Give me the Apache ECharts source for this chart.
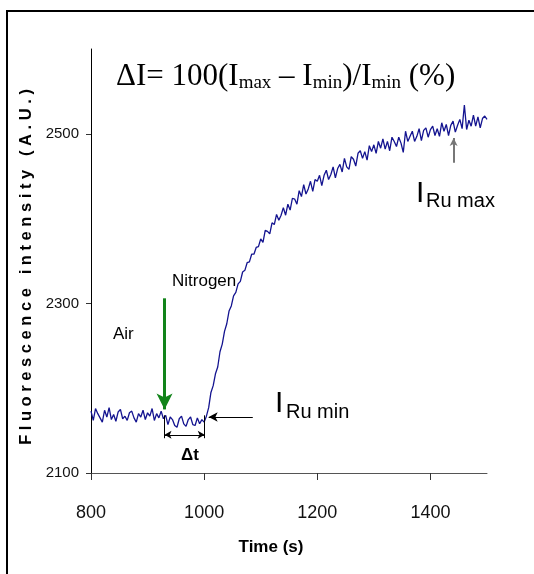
<!DOCTYPE html>
<html lang="en">

<head>
    <meta charset="UTF-8">
    <title>Fluorescence intensity</title>
    <script src="https://cdn.jsdelivr.net/npm/echarts@6/dist/echarts.min.js"></script>
    <style>
        html, body { margin: 0; padding: 0; background: #fff; }
        #main { width: 534px; height: 574px; }
    </style>
</head>

<body>
    <div id="main"></div>
    <script>
        // one reading every 4 s from 800 s to 1500 s
        var startTime = 800;
        var step = 4;
        var intensity = [
            // 800 - 928 s, air
            2173, 2162, 2176, 2170, 2165, 2160, 2174, 2166, 2177, 2163, 2169,
            2161, 2172, 2175, 2164, 2167, 2162, 2171, 2173, 2165, 2160, 2170,
            2166, 2174, 2163, 2171, 2167, 2176, 2162, 2170, 2165, 2173, 2164,
            // 932 - 1000 s, nitrogen, before response
            2168, 2157, 2166, 2163, 2156, 2154, 2164, 2167, 2158,
            2155, 2163, 2166, 2157, 2156, 2165, 2158, 2163, 2160,
            // 1004 - 1096 s
            2167, 2177, 2195, 2203, 2217, 2225, 2243, 2252, 2267, 2276, 2291, 2297,
            2309, 2313, 2323, 2326, 2337, 2339, 2348, 2349, 2358, 2358, 2366, 2367,
            // 1100 - 1200 s
            2376, 2372, 2386, 2385, 2382, 2395, 2393, 2405, 2398, 2404, 2413, 2404, 2417,
            2410, 2424, 2423, 2417, 2433, 2426, 2440, 2429, 2435, 2444, 2432, 2446, 2444,
            // 1204 - 1300 s
            2451, 2439, 2451, 2457, 2446, 2452, 2461, 2448, 2459, 2464, 2455, 2471, 2461,
            2458, 2473, 2470, 2462, 2477, 2480, 2471, 2479, 2469, 2486, 2479, 2487,
            // 1304 - 1400 s
            2477, 2491, 2483, 2494, 2482, 2491, 2480, 2496, 2491, 2485, 2496, 2489, 2478,
            2503, 2491, 2497, 2503, 2491, 2497, 2506, 2492, 2504, 2507, 2496, 2505,
            // 1404 - 1500 s
            2509, 2498, 2506, 2497, 2513, 2503, 2511, 2498, 2510, 2515, 2502, 2510, 2517,
            2506, 2534, 2505, 2516, 2509, 2522, 2509, 2520, 2507, 2518, 2521, 2517
        ];
        var xTicks = [800, 1000, 1200, 1400];
        var yTicks = [2100, 2300, 2500];

        // annotation anchors (data coordinates)
        var gasSwitch = 930;    // nitrogen switched on
        var riseStart = 1001;   // intensity starts to rise
        var minLevel = 2166;
        var maxTime = 1441;

        var sans = '"Liberation Sans", Arial, sans-serif';
        var serif = '"Liberation Serif", "Times New Roman", serif';

        var points = intensity.map(function (v, i) { return [startTime + i * step, v]; });

        var myChart = echarts.init(document.getElementById('main'));
        var option = {
            animation: false,
            grid: { left: 91, top: 49, right: 47, bottom: 101, containLabel: false },
            xAxis: {
                type: 'value',
                min: 800, max: 1500, interval: 200,
                name: 'Time (s)',
                nameLocation: 'middle',
                nameGap: 66,
                nameTextStyle: { fontFamily: sans, fontWeight: 'bold', fontSize: 17, color: '#000', padding: [0, 36, 0, 0] },
                splitLine: { show: false },
                axisLine: { onZero: false, lineStyle: { color: '#555', width: 1 } },
                axisTick: { customValues: xTicks, length: 7, lineStyle: { color: '#333' } },
                axisLabel: {
                    customValues: xTicks, margin: 31, fontFamily: sans, fontSize: 18, color: '#111',
                    formatter: function (v) { return String(v); }
                }
            },
            yAxis: {
                type: 'value',
                min: 2100, max: 2600, interval: 200,
                name: 'F l u o r e s c e n c e   i n t e n s i t y   ( A . U . )',
                nameLocation: 'middle',
                nameGap: 45,
                nameTextStyle: { fontFamily: sans, fontWeight: 'bold', fontSize: 16.5, color: '#000', padding: [0, 12, 0, 0] },
                splitLine: { show: false },
                axisLine: { show: true, onZero: false, lineStyle: { color: '#000', width: 1 } },
                axisTick: { customValues: yTicks, length: 5, lineStyle: { color: '#333' } },
                axisLabel: {
                    customValues: yTicks, margin: 12, fontFamily: sans, fontSize: 15, color: '#111',
                    formatter: function (v) { return String(v); }
                }
            },
            series: [{
                type: 'line',
                data: points,
                showSymbol: false,
                lineStyle: { color: '#141490', width: 1.3 },
                markLine: {
                    silent: true,
                    animation: false,
                    label: { show: false },
                    emphasis: { disabled: true },
                    data: [
                        // green gas switch arrow
                        [{ coord: [gasSwitch, 2306], symbol: 'none' },
                         { coord: [gasSwitch, 2175], symbol: 'arrow', symbolSize: [12, 16],
                           lineStyle: { color: '#12841a', width: 3, type: 'solid' } }],
                        // arrow to I_Ru min
                        [{ coord: [1086, minLevel], symbol: 'none' },
                         { coord: [1008, minLevel], symbol: 'arrow', symbolSize: [7, 9],
                           lineStyle: { color: '#000', width: 1, type: 'solid' } }],
                        // delta t
                        [{ coord: [gasSwitch, 2145], symbol: 'arrow', symbolSize: [6, 7] },
                         { coord: [riseStart, 2145], symbol: 'arrow', symbolSize: [6, 7],
                           lineStyle: { color: '#000', width: 1.2, type: 'solid' } }],
                        [{ coord: [gasSwitch, 2168], symbol: 'none' },
                         { coord: [gasSwitch, 2141], symbol: 'none',
                           lineStyle: { color: '#000', width: 1, type: 'solid' } }],
                        [{ coord: [riseStart, 2168], symbol: 'none' },
                         { coord: [riseStart, 2141], symbol: 'none',
                           lineStyle: { color: '#000', width: 1, type: 'solid' } }],
                        // arrow to I_Ru max
                        [{ coord: [maxTime, 2466], symbol: 'none' },
                         { coord: [maxTime, 2495], symbol: 'arrow', symbolSize: [6, 8],
                           lineStyle: { color: '#777', width: 2, type: 'solid' } }]
                    ]
                }
            }],
            graphic: [
                {
                    type: 'rect', silent: true,
                    shape: { x: 7, y: 11, width: 620, height: 620 },
                    style: { fill: 'none', stroke: '#000', lineWidth: 2 }
                },
                {
                    type: 'text', x: 116, y: 77, silent: true,
                    style: {
                        text: '{n|ΔI= 100(I}{s|max}{n| – I}{s|min}{n|)/I}{s|min}{n| (%)}',
                        verticalAlign: 'middle',
                        rich: {
                            n: { fontFamily: serif, fontSize: 31, lineHeight: 32, color: '#000' },
                            s: { fontFamily: serif, fontSize: 19, lineHeight: 14, verticalAlign: 'bottom', color: '#000' }
                        }
                    }
                },
                { type: 'text', x: 113, y: 334, silent: true,
                  style: { text: 'Air', fontFamily: sans, fontSize: 17, fill: '#000', verticalAlign: 'middle' } },
                { type: 'text', x: 172, y: 281, silent: true,
                  style: { text: 'Nitrogen', fontFamily: sans, fontSize: 17, fill: '#000', verticalAlign: 'middle' } },
                { type: 'text', x: 181, y: 455, silent: true,
                  style: { text: 'Δt', fontFamily: sans, fontWeight: 'bold', fontSize: 17, fill: '#000', verticalAlign: 'middle' } },
                { type: 'text', x: 275, y: 404, silent: true,
                  style: { text: 'I', fontFamily: sans, fontSize: 30, fill: '#000', verticalAlign: 'middle' } },
                { type: 'text', x: 286, y: 412, silent: true,
                  style: { text: 'Ru min', fontFamily: sans, fontSize: 20, fill: '#000', verticalAlign: 'middle' } },
                { type: 'text', x: 416, y: 194, silent: true,
                  style: { text: 'I', fontFamily: sans, fontSize: 30, fill: '#000', verticalAlign: 'middle' } },
                { type: 'text', x: 426, y: 201, silent: true,
                  style: { text: 'Ru max', fontFamily: sans, fontSize: 20, fill: '#000', verticalAlign: 'middle' } }
            ]
        };
        myChart.setOption(option);
    </script>
</body>

</html>
